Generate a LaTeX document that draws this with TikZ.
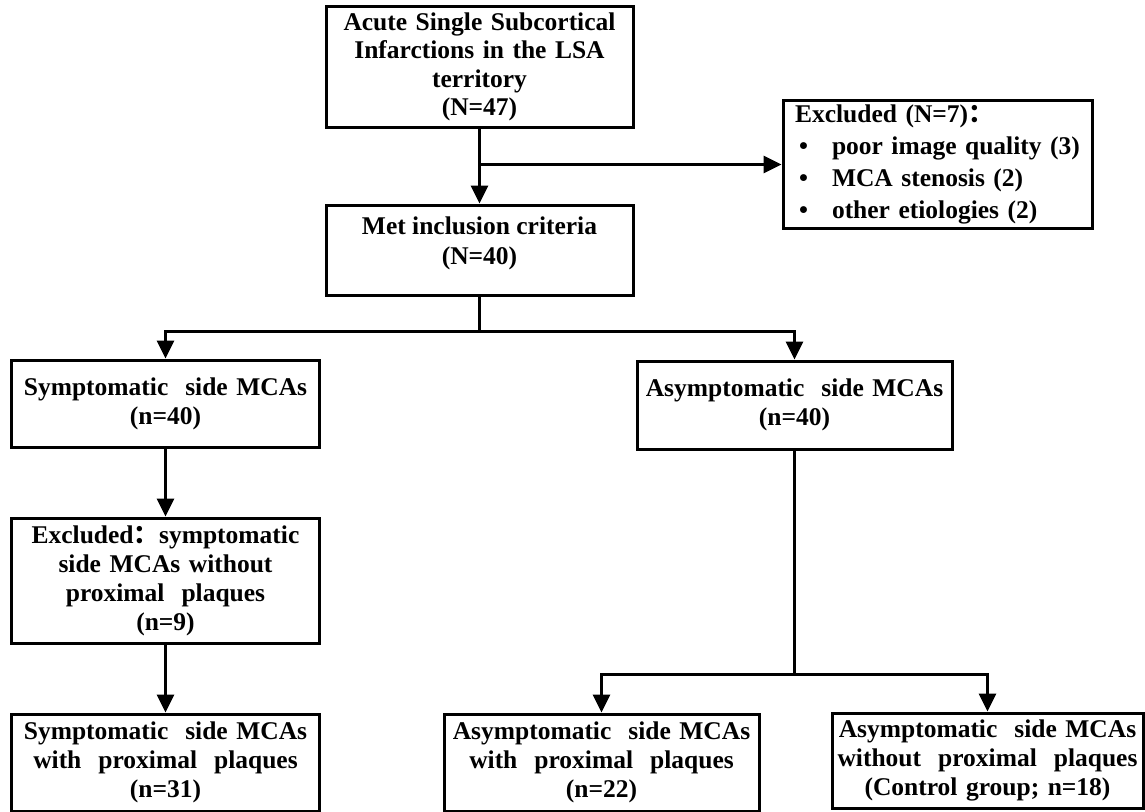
\documentclass[tikz,border=0pt]{standalone}
\usepackage{fontspec}
\setmainfont{Liberation Serif}
\newfontfamily\cjk{Noto Sans CJK SC}
\usetikzlibrary{arrows.meta}
\tikzset{
  box/.style={draw, line width=3bp, inner sep=0pt, align=center,
    font=\bfseries\fontsize{25.5bp}{29bp}\selectfont},
  txt/.style={inner sep=0pt, align=center,
    font=\bfseries\fontsize{25.5bp}{30bp}\selectfont},
  arr/.style={line width=3bp, -{Triangle[width=17bp,length=18bp]}},
  ln/.style={line width=3bp},
}
\begin{document}
\begin{tikzpicture}[x=1bp,y=-1bp]
\useasboundingbox (0,0) rectangle (1145,812);
% nodes
\node[box, text width=307bp, minimum height=120bp, font=\bfseries\fontsize{25.5bp}{28.5bp}\selectfont] (A) at (479.5,67)
  {Acute Single Subcortical\\Infarctions in the LSA\\territory\\(N=47)};
\node[box, align=left, inner xsep=12bp, text width=285bp, minimum height=127bp,
  font=\bfseries\fontsize{25.5bp}{32bp}\selectfont] (E1) at (937.5,164.5)
  {Excluded (N=7){\cjk ：}\\
   \hspace*{4bp}\makebox[33bp][l]{•}poor image quality (3)\\
   \hspace*{4bp}\makebox[33bp][l]{•}MCA stenosis (2)\\
   \hspace*{4bp}\makebox[33bp][l]{•}other etiologies (2)};
\node[box, text width=307bp, minimum height=90bp] (met) at (479.5,250) {};
\node[txt, anchor=north] (mett) at ([yshift=-13bp]met.north) {Met inclusion criteria\\(N=40)};
\node[box, text width=307bp, minimum height=87bp] (S) at (165.5,403.5)
  {Symptomatic\ \ side MCAs\\(n=40)};
\node[box, text width=315bp, minimum height=88bp] (AS) at (794.5,405)
  {Asymptomatic\ \ side MCAs\\(n=40)};
\node[box, text width=307bp, minimum height=125bp] (E2) at (165.5,580.5)
  {Excluded{\cjk ：}symptomatic\\side MCAs without\\proximal\ \ plaques\\(n=9)};
\node[box, text width=307bp, minimum height=97bp] (S2) at (165.5,762.5)
  {Symptomatic\ \ side MCAs\\with\ \ proximal\ \ plaques\\(n=31)};
\node[box, text width=315bp, minimum height=97bp] (AS2) at (601.5,762.5)
  {Asymptomatic\ \ side MCAs\\with\ \ proximal\ \ plaques\\(n=22)};
\node[box, text width=311bp, minimum height=95bp] (AS3) at (987.5,760.5)
  {Asymptomatic\ \ side MCAs\\without\ \ proximal\ \ plaques\\(Control group; n=18)};
% connectors
\draw[arr] (A.south) -- (met.north);
\draw[arr] (A.south |- E1.west) -- (E1.west);
\draw[ln] (met.south) -- ++(0,35) coordinate (j1);
\draw[arr] (j1) -| (S.north);
\draw[arr] (j1) -| (AS.north);
\draw[arr] (S.south) -- (E2.north);
\draw[arr] (E2.south) -- (S2.north);
\draw[ln] (AS.south) -- ++(0,224) coordinate (j2);
\draw[arr] (j2) -| (AS2.north);
\draw[arr] (j2) -| (AS3.north);
\end{tikzpicture}
\end{document}
